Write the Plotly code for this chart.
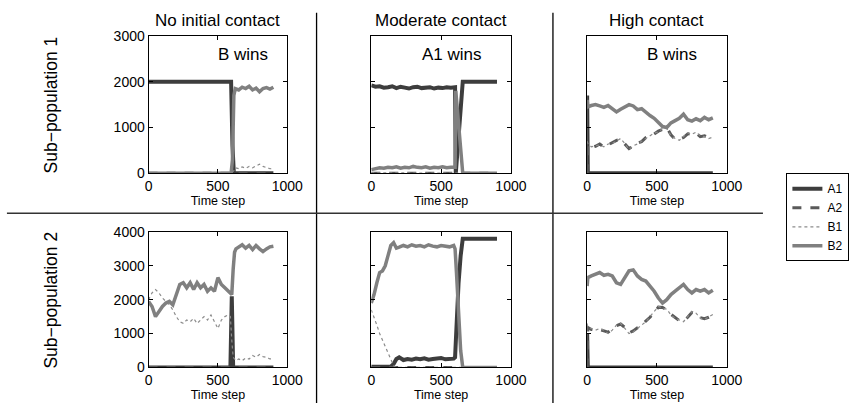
import plotly.graph_objects as go

W, H = 861, 411

# ---------------- data ----------------
COL_TITLES = ["No initial contact", "Moderate contact", "High contact"]
ROW_TITLES = ["Sub\u2212population 1", "Sub\u2212population 2"]
WIN_LABELS = ["B wins", "A1 wins", "B wins"]
SERIES = ["A1", "A2", "B1", "B2"]
X_TICKS = [0, 500, 1000]
Y_TICKS_TOP = [0, 1000, 2000, 3000]
Y_TICKS_BOT = [0, 1000, 2000, 3000, 4000]

# No initial contact, sub-population 1
T_NO1 = [0, 50, 100, 150, 200, 250, 300, 350, 400, 450, 500, 550, 595, 605, 615, 625, 650, 675, 700,
         725, 750, 775, 800, 825, 850, 875, 900]
A1_NO1 = [2000, 2000, 2000, 2000, 2000, 2000, 2000, 2000, 2000, 2000, 2000, 2000, 2000, 600, 0, 0, 0, 0, 0,
          0, 0, 0, 0, 0, 0, 0, 0]
A2_NO1 = [0] * 27
B1_NO1 = [0, 0, 0, 0, 0, 0, 0, 0, 0, 0, 0, 0, 0, 30, 60, 120, 100, 140, 110,
          150, 120, 160, 200, 150, 130, 100, 110]
B2_NO1 = [0, 0, 0, 0, 0, 0, 0, 0, 0, 0, 0, 0, 0, 300, 1700, 1850, 1820, 1880, 1850,
          1900, 1820, 1860, 1780, 1850, 1870, 1840, 1880]

# Moderate contact, sub-population 1
T_MO1 = [0, 30, 60, 90, 120, 150, 180, 210, 240, 270, 300, 330, 360, 390, 420, 450, 480, 510, 540, 570,
         600, 605, 620, 640, 655, 680, 720, 760, 800, 850, 900]
A1_MO1 = [1920, 1890, 1900, 1870, 1880, 1900, 1860, 1890, 1870, 1850, 1880, 1890, 1860, 1870, 1880, 1850,
          1870, 1860, 1880, 1870, 1880, 0, 600, 1400, 2000, 2000, 2000, 2000, 2000, 2000, 2000]
A2_MO1 = [0] * 31
B1_MO1 = [10] * 20 + [0] * 11
B2_MO1 = [80, 100, 120, 110, 130, 120, 140, 110, 130, 120, 150, 130, 120, 140, 110, 130, 120, 140, 120, 130,
          130, 1800, 1300, 500, 0, 0, 0, 0, 0, 0, 0]

# High contact, sub-population 1
T_HI = [0, 5, 30, 60, 90, 120, 150, 180, 210, 240, 270, 300, 330, 360, 390, 420, 450, 480, 510, 540,
        570, 600, 630, 660, 690, 720, 750, 780, 810, 840, 870, 900]
A1_HI1 = [1700] + [0] * 31
A2_HI1 = [0, 620, 560, 590, 640, 570, 620, 670, 720, 740, 630, 540, 590, 660, 690, 780, 800, 870, 920, 960,
          1000, 840, 740, 740, 780, 860, 870, 880, 800, 820, 780, 800]
B1_HI1 = [700, 650, 580, 600, 620, 580, 640, 650, 700, 760, 650, 520, 600, 640, 700, 760, 820, 880, 900, 980,
          980, 820, 760, 720, 800, 880, 850, 900, 820, 800, 760, 790]
B2_HI1 = [1600, 1450, 1480, 1500, 1470, 1440, 1480, 1400, 1340, 1400, 1450, 1500, 1470, 1390, 1410, 1330,
          1260, 1200, 1120, 1020, 1000, 1100, 1150, 1200, 1290, 1170, 1140, 1190, 1150, 1220, 1170, 1210]

# No initial contact, sub-population 2
T_NO2 = [0, 25, 50, 75, 100, 125, 150, 175, 200, 225, 250, 275, 300, 325, 350, 375, 400, 425, 450, 475,
         500, 525, 550, 575, 590, 600, 610, 620, 630, 650, 675, 700, 725, 750, 775, 800, 825, 850, 875, 900]
A1_NO2 = [0] * 25 + [2100, 0] + [0] * 13
A2_NO2 = [0] * 40
B1_NO2 = [2000, 2200, 2300, 2200, 2050, 1950, 1850, 1700, 1500, 1350, 1300, 1400, 1350, 1450, 1300, 1400,
          1500, 1400, 1550, 1350, 1150, 1400, 1500, 1550, 1500, 800, 300, 250, 200, 250, 200, 280, 250,
          350, 300, 380, 320, 300, 250, 260]
B2_NO2 = [1950, 1800, 1500, 1650, 1800, 1900, 1950, 1850, 2150, 2450, 2500, 2350, 2500, 2300, 2500, 2350,
          2450, 2250, 2350, 2250, 2650, 2450, 2350, 2250, 2200, 2150, 2900, 3400, 3500, 3550, 3620, 3520,
          3600, 3480, 3600, 3500, 3420, 3500, 3560, 3580]

# Moderate contact, sub-population 2
T_MO2 = [0, 10, 20, 40, 60, 80, 100, 120, 140, 160, 180, 200, 230, 260, 290, 320, 350, 380, 410, 440,
         470, 500, 530, 560, 590, 600, 610, 625, 640, 655, 670, 700, 750, 800, 850, 900]
A1_MO2 = [20, 20, 20, 20, 20, 20, 20, 20, 30, 100, 250, 300, 220, 250, 230, 260, 240, 270, 230, 250,
          260, 280, 240, 250, 260, 300, 1500, 2500, 3300, 3800, 3800, 3800, 3800, 3800, 3800, 3800]
A2_MO2 = [0] * 36
B1_MO2 = [1700, 1600, 1450, 1250, 1000, 800, 600, 400, 200, 50] + [0] * 26
B2_MO2 = [1900, 2000, 2150, 2500, 2800, 2850, 3000, 3300, 3600, 3680, 3520, 3550, 3600, 3560, 3620, 3580,
          3600, 3560, 3620, 3580, 3560, 3600, 3580, 3560, 3600, 3500, 2800, 1500, 500, 0, 0, 0, 0, 0, 0, 0]

# High contact, sub-population 2
A1_HI2 = [1000] + [0] * 31
A2_HI2 = [0, 1180, 1120, 1130, 1120, 1080, 1040, 1120, 1230, 1280, 1180, 1020, 1080, 1170, 1230, 1370,
          1480, 1620, 1780, 1770, 1700, 1570, 1470, 1380, 1370, 1480, 1620, 1580, 1470, 1440, 1480, 1540]
B1_HI2 = [1300, 1200, 1150, 1100, 1150, 1100, 1000, 1100, 1250, 1300, 1150, 1000, 1050, 1150, 1250, 1350,
          1500, 1650, 1800, 1750, 1720, 1550, 1450, 1400, 1350, 1500, 1650, 1600, 1450, 1420, 1500, 1560]
B2_HI2 = [2400, 2650, 2700, 2750, 2800, 2720, 2750, 2700, 2500, 2450, 2650, 2850, 2880, 2700, 2600, 2550,
          2400, 2250, 2050, 1900, 2000, 2150, 2250, 2350, 2450, 2300, 2200, 2300, 2250, 2300, 2200, 2280]

PANELS = [
    (T_NO1, [A1_NO1, A2_NO1, B1_NO1, B2_NO1]),
    (T_MO1, [A1_MO1, A2_MO1, B1_MO1, B2_MO1]),
    (T_HI, [A1_HI1, A2_HI1, B1_HI1, B2_HI1]),
    (T_NO2, [A1_NO2, A2_NO2, B1_NO2, B2_NO2]),
    (T_MO2, [A1_MO2, A2_MO2, B1_MO2, B2_MO2]),
    (T_HI, [A1_HI2, A2_HI2, B1_HI2, B2_HI2]),
]

# ---------------- styling ----------------
FONT = "Liberation Sans, Arial, Helvetica, sans-serif"
STYLES = {
    "A1": dict(color="#3d3d3d", width=4, dash="solid"),
    "A2": dict(color="#5a5a5a", width=3, dash="dash"),
    "B1": dict(color="#8c8c8c", width=1.2, dash="dot"),
    "B2": dict(color="#808080", width=3.5, dash="solid"),
}

COL_PX = [(148, 290), (376, 519), (597, 740)]
ROW_PX = [(29, 172), (233, 374)]

fig = go.Figure()
layout = {}

for i, (t, vals) in enumerate(PANELS):
    r, c = divmod(i, 3)
    n = i + 1
    xa = "x" if n == 1 else f"x{n}"
    ya = "y" if n == 1 else f"y{n}"
    for name, v in zip(SERIES, vals):
        fig.add_trace(go.Scatter(
            x=t, y=v, mode="lines", name=name, line=STYLES[name],
            xaxis=xa, yaxis=ya, showlegend=(i == 0), legendgroup=name,
            hoverinfo="skip",
        ))
    x0, x1 = COL_PX[c]
    y0, y1 = ROW_PX[r]
    xkey = "xaxis" if n == 1 else f"xaxis{n}"
    ykey = "yaxis" if n == 1 else f"yaxis{n}"
    layout[xkey] = dict(
        domain=[x0 / W, x1 / W], anchor=ya, range=[0, 1000],
        tickvals=X_TICKS, ticks="inside", ticklen=4, tickcolor="black",
        showline=True, linecolor="black", linewidth=1, mirror="ticks",
        showgrid=False, zeroline=False,
        tickfont=dict(family=FONT, size=14, color="black"),
        title=dict(text="Time step", font=dict(family=FONT, size=12.5, color="black"), standoff=1),
    )
    layout[ykey] = dict(
        domain=[1 - y1 / H, 1 - y0 / H], anchor=xa,
        range=[0, 3000] if r == 0 else [0, 4000],
        tickvals=Y_TICKS_TOP if r == 0 else Y_TICKS_BOT,
        ticks="inside", ticklen=4, tickcolor="black",
        showline=True, linecolor="black", linewidth=1, mirror="ticks",
        showgrid=False, zeroline=False, showticklabels=(c == 0),
        tickfont=dict(family=FONT, size=14, color="black"),
    )

annotations = []
for c, title in enumerate(COL_TITLES):
    x0, x1 = COL_PX[c]
    annotations.append(dict(text=title, x=(x0 + x1) / 2 / W, y=1 - 13 / H, xref="paper", yref="paper",
                            showarrow=False, xanchor="center", yanchor="middle",
                            font=dict(family=FONT, size=17, color="black")))
for r, title in enumerate(ROW_TITLES):
    y0, y1 = ROW_PX[r]
    annotations.append(dict(text=title, x=48 / W, y=1 - (y0 + y1) / 2 / H, xref="paper", yref="paper",
                            showarrow=False, xanchor="center", yanchor="middle", textangle=-90,
                            font=dict(family=FONT, size=17.5, color="black")))
for c, lab in enumerate(WIN_LABELS):
    xa = "x" if c == 0 else f"x{c + 1}"
    ya = "y" if c == 0 else f"y{c + 1}"
    annotations.append(dict(text=lab, x=[680, 580, 610][c], y=2600, xref=xa, yref=ya, showarrow=False,
                            xanchor="center", yanchor="middle",
                            font=dict(family=FONT, size=17, color="black")))

shapes = [
    dict(type="line", xref="paper", yref="paper", x0=320 / W, x1=320 / W, y0=1 - 5 / H, y1=0,
         line=dict(color="black", width=1.3)),
    dict(type="line", xref="paper", yref="paper", x0=562 / W, x1=562 / W, y0=1 - 5 / H, y1=0,
         line=dict(color="black", width=1.3)),
    dict(type="line", xref="paper", yref="paper", x0=3 / W, x1=777 / W, y0=1 - 213.5 / H, y1=1 - 213.5 / H,
         line=dict(color="#333333", width=1.5)),
]

fig.update_layout(
    **layout,
    width=W, height=H,
    margin=dict(l=0, r=0, t=0, b=0),
    paper_bgcolor="white", plot_bgcolor="white",
    font=dict(family=FONT, color="black"),
    annotations=annotations, shapes=shapes,
    legend=dict(x=801 / W, y=1 - 172 / H, xanchor="left", yanchor="top",
                bordercolor="black", borderwidth=1, bgcolor="white",
                font=dict(family=FONT, size=12, color="black"),
                tracegroupgap=0, itemwidth=30),
)

fig.write_html("out.html", config={"displayModeBar": False},
               post_script="document.body.style.margin='0';document.body.style.overflow='hidden';")
